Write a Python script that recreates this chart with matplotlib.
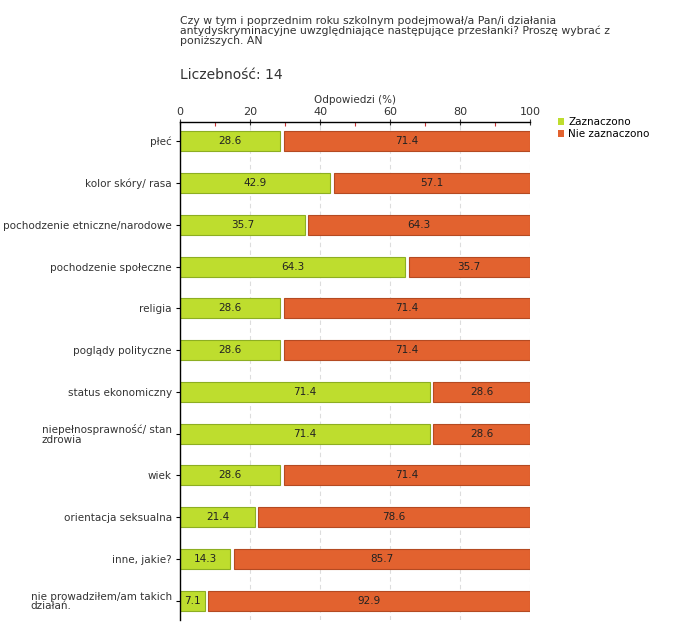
import matplotlib
matplotlib.use("Agg")
from matplotlib import pyplot as plt
from matplotlib.patches import Patch
from matplotlib.ticker import MultipleLocator

categories = [
    "płeć",
    "kolor skóry/ rasa",
    "pochodzenie etniczne/narodowe",
    "pochodzenie społeczne",
    "religia",
    "poglądy polityczne",
    "status ekonomiczny",
    "niepełnosprawność/ stan\nzdrowia",
    "wiek",
    "orientacja seksualna",
    "inne, jakie?",
    "nie prowadziłem/am takich\ndziałań.",
]
zaznaczono = [28.6, 42.9, 35.7, 64.3, 28.6, 28.6, 71.4, 71.4, 28.6, 21.4, 14.3, 7.1]
nie_zaznaczono = [71.4, 57.1, 64.3, 35.7, 71.4, 71.4, 28.6, 28.6, 71.4, 78.6, 85.7, 92.9]
series_names = ["Zaznaczono", "Nie zaznaczono"]

green = "#BEDD2E"
green_edge = "#8DAE22"
red = "#E2622F"
red_edge = "#B44A22"
gap = 1.0

plt.rcParams["font.family"] = ["DejaVu Sans"]

fig = plt.figure(figsize=(6.8, 6.4), dpi=100)
ax = fig.add_axes([180 / 680, 20 / 640, 350 / 680, 498 / 640])

ypos = list(range(len(categories)))
h = 0.48
ax.barh(ypos, zaznaczono, height=h, color=green, edgecolor=green_edge, linewidth=0.8)
ax.barh(ypos, [r - gap for r in nie_zaznaczono], left=[g + gap for g in zaznaczono],
        height=h, color=red, edgecolor=red_edge, linewidth=0.8)

for y, g, r in zip(ypos, zaznaczono, nie_zaznaczono):
    ax.text(g / 2, y, f"{g:.1f}", ha="center", va="center", fontsize=7.5, color="#222222")
    ax.text(g + gap + (r - gap) / 2, y, f"{r:.1f}", ha="center", va="center",
            fontsize=7.5, color="#222222")

ax.set_xlim(0, 100)
ax.set_ylim(len(categories) - 0.54, -0.46)
ax.set_yticks(ypos)
ax.set_yticklabels(categories, fontsize=7.5, color="#333333", linespacing=0.95)
for lbl in ax.get_yticklabels():
    lbl.set_multialignment("left")
ax.tick_params(axis="y", length=3, width=0.8, pad=3)

ax.xaxis.tick_top()
ax.xaxis.set_label_position("top")
ax.xaxis.set_major_locator(MultipleLocator(20))
ax.xaxis.set_minor_locator(MultipleLocator(10))
ax.tick_params(axis="x", which="major", direction="inout", length=5, width=0.8,
               labelsize=8, colors="#333333", pad=1)
ax.tick_params(axis="x", which="minor", direction="in", length=3, width=0.8, color="#CC3333")
ax.set_xlabel("Odpowiedzi (%)", fontsize=7.5, color="#333333", labelpad=3)

ax.grid(axis="x", which="major", linestyle=(0, (4, 3)), color="#DDDDDD", linewidth=0.8)
ax.set_axisbelow(True)
for s in ["right", "bottom"]:
    ax.spines[s].set_visible(False)
ax.spines["top"].set_linewidth(1.0)
ax.spines["left"].set_linewidth(1.0)

fig.text(180 / 680, 1 - 16 / 640,
         "Czy w tym i poprzednim roku szkolnym podejmował/a Pan/i działania\n"
         "antydyskryminacyjne uwzględniające następujące przesłanki? Proszę wybrać z\n"
         "poniższych. AN",
         fontsize=7.8, color="#333333", va="top", ha="left", linespacing=0.95)
fig.text(180 / 680, 1 - 75 / 640, "Liczebność: 14", fontsize=10, color="#333333",
         va="center", ha="left")

handles = [Patch(facecolor=green, edgecolor="none"), Patch(facecolor=red, edgecolor="none")]
fig.legend(handles, series_names, loc="upper left", bbox_to_anchor=(558 / 680, 1 - 117 / 640),
           frameon=False, fontsize=7.5, handlelength=0.6, handleheight=0.6,
           handletextpad=0.4, labelspacing=0.2, borderaxespad=0, borderpad=0)

fig.savefig("out.png", dpi=100)
